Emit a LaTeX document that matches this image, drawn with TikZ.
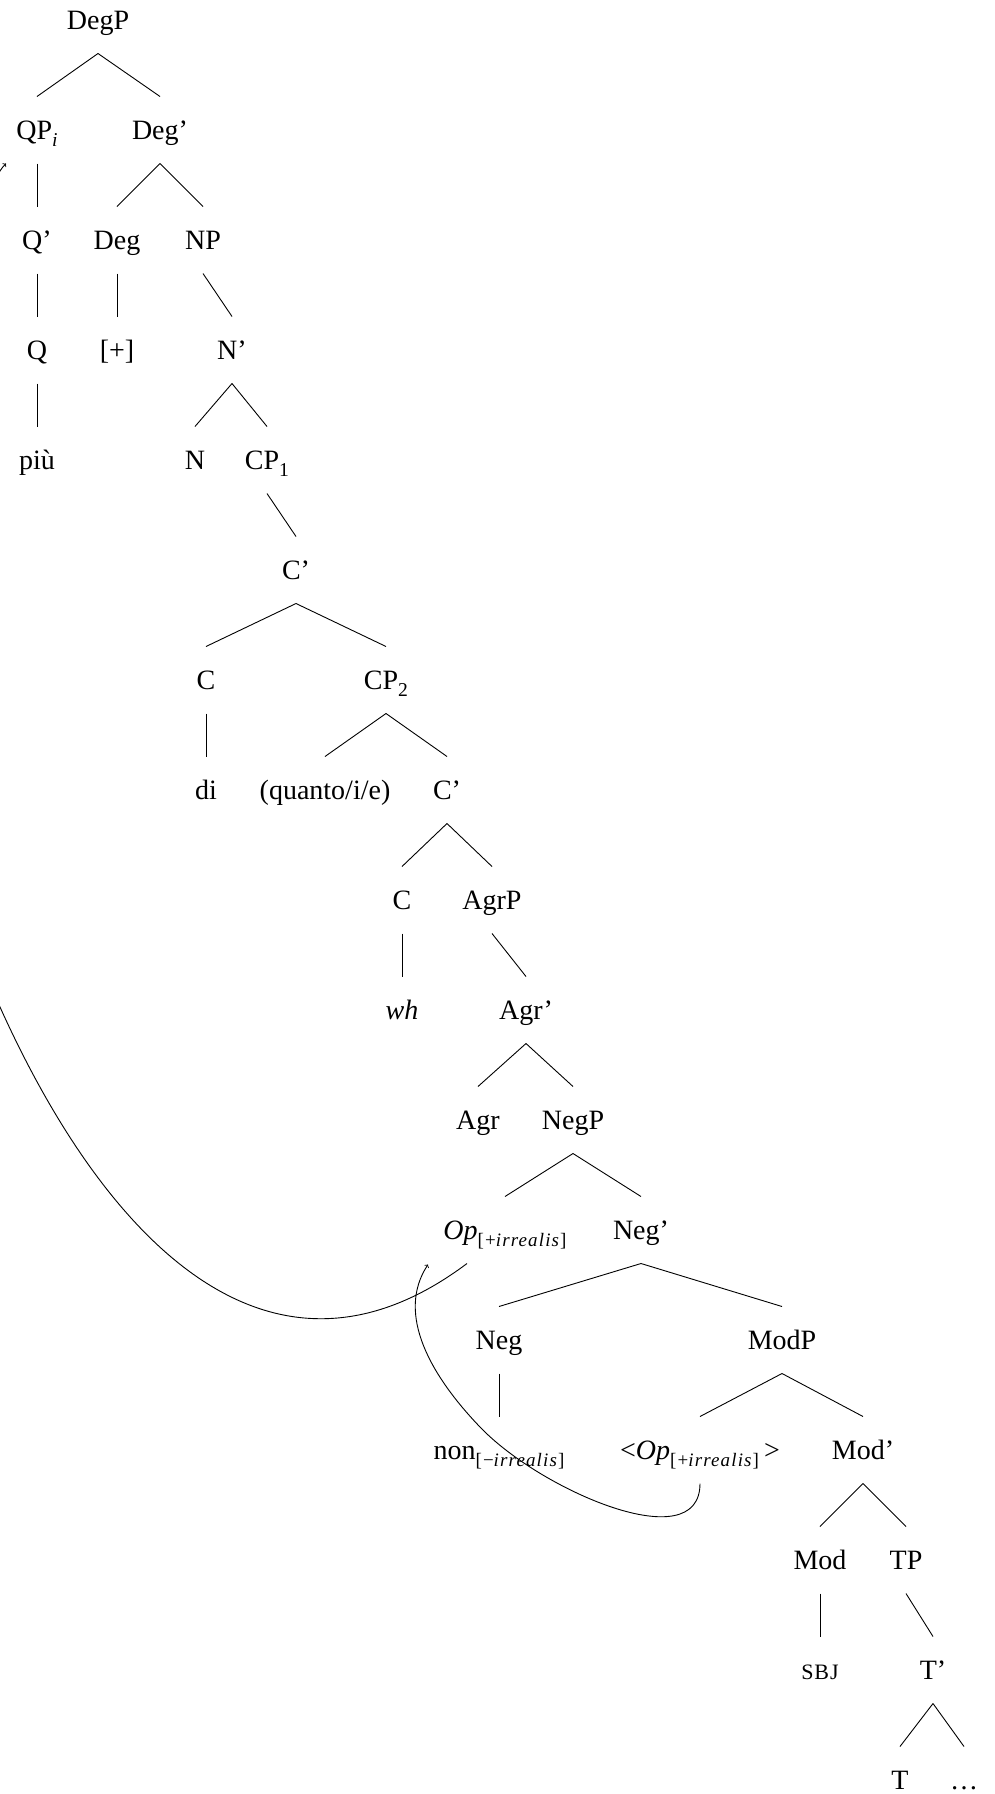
\documentclass[tikz,border=0pt]{standalone}
\usepackage{fontspec}
\setmainfont{Liberation Serif}
\newcommand\lowsub[1]{\raisebox{-7pt}{\fontsize{19.6}{20}\selectfont #1}}
\newcommand\irr[1]{\raisebox{-6.5pt}{\fontsize{19}{20}\selectfont\addfontfeature{LetterSpace=6}[#1\textit{irrealis}]}}
\begin{document}
\begin{tikzpicture}[x=1pt,y=-1pt,
  lab/.style={anchor=base,inner sep=0pt,font=\fontsize{28}{34}\selectfont},
  br/.style={line width=0.9pt},
  mv/.style={line width=0.9pt}]
\useasboundingbox (0,0) rectangle (994,1794);
\clip (0,0) rectangle (994,1794);
\newcommand\brch[2]{\draw[br] ([yshift=-24pt]#1.base) -- ([yshift=43pt]#2.base);}
% row 0
\node[lab] (degp) at (98,29.5) {DegP};
% row 1
\node[lab] (qp) at (37,139.5) {QP\lowsub{\textit{i}}};
\node[lab] (degbar) at (160,139.5) {Deg'};
% row 2
\node[lab] (qbar) at (37,249.5) {Q'};
\node[lab] (deg) at (117,249.5) {Deg};
\node[lab] (np) at (203,249.5) {NP};
% row 3
\node[lab] (q) at (37,359.5) {Q};
\node[lab] (plus) at (117,359.5) {[+]};
\node[lab] (nbar) at (232,359.5) {N'};
% row 4
\node[lab] (piu) at (37,469.5) {più};
\node[lab] (n) at (195,469.5) {N};
\node[lab] (cpa) at (267,469.5) {CP\lowsub{1}};
% row 5
\node[lab] (cbara) at (296,579.5) {C'};
% row 6
\node[lab] (ca) at (206,689.5) {C};
\node[lab] (cpb) at (386,689.5) {CP\lowsub{2}};
% row 7
\node[lab] (di) at (206,799.5) {di};
\node[lab] (quanto) at (325,799.5) {(quanto/i/e)};
\node[lab] (cbarb) at (447,799.5) {C'};
% row 8
\node[lab] (cb) at (402,909.5) {C};
\node[lab] (agrp) at (492,909.5) {AgrP};
% row 9
\node[lab] (wh) at (402,1019.5) {\textit{wh}};
\node[lab] (agrbar) at (526,1019.5) {Agr'};
% row 10
\node[lab] (agr) at (478,1129.5) {Agr};
\node[lab] (negp) at (573,1129.5) {NegP};
% row 11
\node[lab] (op) at (505,1239.5) {\textit{Op}\irr{+}};
\node[lab] (negbar) at (641,1239.5) {Neg'};
% row 12
\node[lab] (neg) at (499,1349.5) {Neg};
\node[lab] (modp) at (782,1349.5) {ModP};
% row 13
\node[lab] (non) at (499,1459.5) {non\irr{−}};
\node[lab] (opt) at (700,1459.5) {<\textit{Op}\irr{+}\hspace{5pt}>};
\node[lab] (modbar) at (863,1459.5) {Mod'};
% row 14
\node[lab] (mod) at (820,1569.5) {Mod};
\node[lab] (tp) at (906,1569.5) {TP};
% row 15
\node[lab] (sbj) at (820,1679.5) {{\fontsize{22}{24}\selectfont\addfontfeature{LetterSpace=4}SBJ}};
\node[lab] (tbar) at (933,1679.5) {T'};
% row 16
\node[lab] (t) at (900,1789.5) {T};
\node[lab] (dots) at (964,1789.5) {…};
% branches
\brch{degp}{qp}\brch{degp}{degbar}
\brch{qp}{qbar}
\brch{degbar}{deg}\brch{degbar}{np}
\brch{qbar}{q}\brch{deg}{plus}\brch{np}{nbar}
\brch{q}{piu}\brch{nbar}{n}\brch{nbar}{cpa}
\brch{cpa}{cbara}
\brch{cbara}{ca}\brch{cbara}{cpb}
\brch{ca}{di}\brch{cpb}{quanto}\brch{cpb}{cbarb}
\brch{cbarb}{cb}\brch{cbarb}{agrp}
\brch{cb}{wh}\brch{agrp}{agrbar}
\brch{agrbar}{agr}\brch{agrbar}{negp}
\brch{negp}{op}\brch{negp}{negbar}
\brch{negbar}{neg}\brch{negbar}{modp}
\brch{neg}{non}\brch{modp}{opt}\brch{modp}{modbar}
\brch{modbar}{mod}\brch{modbar}{tp}
\brch{mod}{sbj}\brch{tp}{tbar}
\brch{tbar}{t}\brch{tbar}{dots}
% movement arrows
\coordinate (m1) at (0,1007);
\draw[mv,->] ([xshift=-38pt,yshift=-24pt]op.base) .. controls +(-200,150) and +(102.5,227.5) .. (m1)
   .. controls +(-102.5,-227.5) and +(-60,60) .. ([xshift=-31pt,yshift=-24pt]qp.base);
\coordinate (m2) at (480,1427);
\draw[mv,->] ([yshift=-24pt]opt.base) .. controls +(0,76) and +(60,63) .. (m2)
   .. controls +(-48,-50) and +(-33,50) .. ([xshift=-77pt,yshift=-25pt]op.base);
\end{tikzpicture}
\end{document}
